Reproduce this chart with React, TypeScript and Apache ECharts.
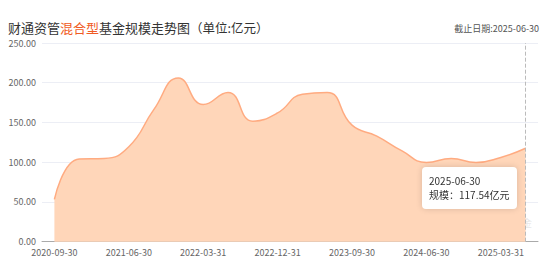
import React, { useEffect, useRef } from "react";
import * as echarts from "echarts";

const categories = [
  "2020-09-30", "2020-12-31", "2021-03-31", "2021-06-30", "2021-09-30",
  "2021-12-31", "2022-03-31", "2022-06-30", "2022-09-30", "2022-12-31",
  "2023-03-31", "2023-06-30", "2023-09-30", "2023-12-31", "2024-03-31",
  "2024-06-30", "2024-09-30", "2024-12-31", "2025-03-31", "2025-06-30",
];
const scaleValues = [
  53.2, 104.2, 104.8, 119.5, 165.8,
  206.0, 172.6, 187.7, 151.6, 162.0,
  185.5, 187.7, 146.6, 132.8, 114.5,
  99.7, 104.7, 99.7, 106.0, 117.54,
];
const yTicks = { min: 0, max: 250, interval: 50 };

const FONT = "'Noto Sans CJK SC', 'Noto Sans', sans-serif";

export default function App() {
  const ref = useRef<HTMLDivElement>(null);
  useEffect(() => {
    if (!ref.current) return;
    document.body.style.margin = "0";
    const chart = echarts.init(ref.current, undefined, { renderer: "svg" });
    chart.setOption({
      animation: false,
      textStyle: { fontFamily: FONT },
      title: [
        {
          text: "{a|财通资管}{b|混合型}{a|基金规模走势图}{p|（单位:亿元）}",
          left: 3,
          top: 16,
          textStyle: {
            rich: {
              a: { fontSize: 13, color: "#333", fontWeight: "normal", fontFamily: FONT },
              b: { fontSize: 13, color: "#f05a24", fontWeight: "normal", fontFamily: FONT },
              p: { fontSize: 12.5, color: "#333", fontWeight: "normal", fontFamily: FONT },
            },
          },
        },
        {
          text: "截止日期:2025-06-30",
          right: 6,
          top: 19,
          textStyle: { fontSize: 9, color: "#555", fontWeight: "normal", fontFamily: FONT },
        },
      ],
      grid: { left: 42, right: 12, top: 43, bottom: 24.3, containLabel: false },
      tooltip: {
        trigger: "axis",
        alwaysShowContent: true,
        transitionDuration: 0,
        position: [422, 167],
        backgroundColor: "#fff",
        borderWidth: 0,
        padding: [7, 7],
        extraCssText: "box-shadow: 0 0 6px rgba(0,0,0,0.15); border-radius: 4px;",
        textStyle: { fontSize: 10, color: "#333", fontFamily: FONT },
        formatter: (params: any) => {
          const p = Array.isArray(params) ? params[0] : params;
          return (
            '<div style="line-height:14px;font-size:10px;color:#333;white-space:nowrap">' +
            p.name +
            "<br/>规模：" +
            Number(p.value).toFixed(2) +
            "亿元</div>"
          );
        },
        axisPointer: {
          type: "line",
          lineStyle: { color: "#bbb", type: "dashed", width: 1 },
        },
      },
      xAxis: {
        type: "category",
        data: categories,
        boundaryGap: true,
        axisLine: { lineStyle: { color: "#aaa" } },
        axisTick: { length: 3, lineStyle: { color: "#aaa" } },
        axisLabel: { interval: 2, fontSize: 9, color: "#666", margin: 6, fontFamily: FONT },
      },
      yAxis: {
        type: "value",
        min: yTicks.min,
        max: yTicks.max,
        interval: yTicks.interval,
        axisLine: { show: false },
        axisTick: { show: false },
        axisLabel: {
          fontSize: 9,
          color: "#666",
          margin: 6,
          fontFamily: FONT,
          formatter: (v: number) => v.toFixed(2),
        },
        splitLine: { lineStyle: { color: "#eceef5" } },
      },
      graphic: [
        {
          type: "group",
          left: 470,
          top: 217,
          silent: true,
          children: [
            { type: "rect", shape: { x: 0, y: 0, width: 17, height: 17, r: 4 }, style: { fill: "rgba(210,210,210,0.45)" } },
            { type: "text", x: 22, y: 0, style: { text: "天天基金", fontSize: 10, fill: "rgba(215,215,215,0.6)", fontFamily: FONT } },
            { type: "text", x: 22, y: 12, style: { text: "投资理财财富", fontSize: 4.5, fill: "rgba(215,215,215,0.6)", fontFamily: FONT } },
          ],
        },
      ],
      series: [
        {
          type: "line",
          data: scaleValues,
          smooth: true,
          showSymbol: false,
          symbol: "none",
          lineStyle: { color: "#f29c76", width: 1.5 },
          itemStyle: { color: "#f29c76" },
          areaStyle: { color: "#f5c3a9", opacity: 1 },
        },
      ],
    });
    chart.dispatchAction({ type: "showTip", seriesIndex: 0, dataIndex: categories.length - 1 });
    return () => chart.dispose();
  }, []);
  return <div ref={ref} style={{ position: "relative", width: 550, height: 266 }} />;
}
